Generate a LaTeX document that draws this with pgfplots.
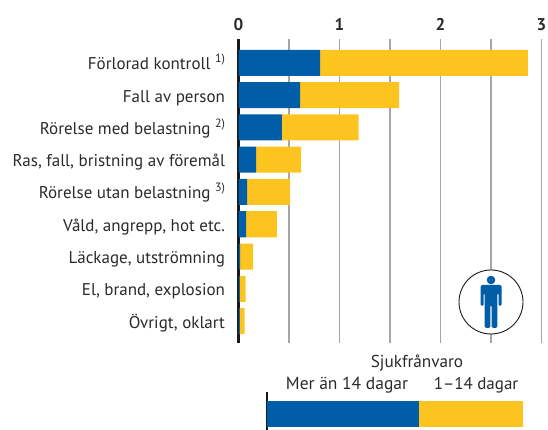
\documentclass[border=0pt]{standalone}
\usepackage{pgfplots}
\pgfplotsset{compat=1.18}
\usepackage{fontspec}
\setmainfont{PT Sans}
\definecolor{afablue}{HTML}{005DA8}
\definecolor{afayellow}{HTML}{FDC41F}
\definecolor{txt}{HTML}{2B2A29}
\newcommand{\fnote}[1]{\raisebox{0.42em}{\fontsize{12}{12}\selectfont #1}}
\begin{document}
\begin{tikzpicture}[x=1pt,y=1pt]
\path[use as bounding box] (0,0) rectangle (548,430);
\begin{axis}[
  at={(238.5pt,87pt)},anchor=south west,
  scale only axis,width=303pt,height=304pt,
  xmin=0,xmax=3,ymin=-0.744,ymax=8.682,
  y dir=reverse,
  xbar stacked,bar width=26pt,
  xtick={0,1,2,3},minor xtick={0.5,1.5,2.5},
  xticklabel pos=top,
  ytick={0,...,8},
  yticklabels={{Förlorad kontroll \fnote{1)}},Fall av person,{Rörelse med belastning \fnote{2)}},{Ras, fall, bristning av föremål},{Rörelse utan belastning \fnote{3)}},{Våld, angrepp, hot etc.},{Läckage, utströmning},{El, brand, explosion},{Övrigt, oklart}},
  xmajorgrids,xminorgrids,
  grid style={draw=black!35,line width=1.1pt},
  minor grid style={draw=black!35,line width=1.1pt},
  major tick length=0pt,minor tick length=0pt,
  axis line style={draw=none},
  tick label style={text=txt,font=\fontsize{17}{18}\selectfont},
  xticklabel style={font=\fontsize{17}{18}\selectfont\bfseries,yshift=5pt},
  yticklabel style={xshift=-10pt,text height=14pt,text depth=0pt},
  /pgf/number format/assume math mode=true,
  clip=false,
]
\addplot[fill=afablue,draw=none] coordinates {(0.807,0) (0.61,1) (0.43,2) (0.175,3) (0.085,4) (0.075,5) (0.015,6) (0.01,7) (0.01,8)};
\addplot[fill=afayellow,draw=none] coordinates {(2.059,0) (0.98,1) (0.76,2) (0.445,3) (0.425,4) (0.305,5) (0.13,6) (0.06,7) (0.05,8)};
\draw[black!90,line width=2.4pt] (axis cs:0,-0.744) -- (axis cs:0,8.682);
\end{axis}
% legend bar, drawn on its own axis in data units
\begin{axis}[
  at={(267pt,3pt)},anchor=south west,
  scale only axis,width=256pt,height=26pt,
  xmin=0,xmax=1,ymin=0,ymax=1,
  xbar stacked,bar width=26pt,
  axis line style={draw=none},ticks=none,clip=false,
]
\addplot[fill=afablue,draw=none] coordinates {(0.594,0.5)};
\addplot[fill=afayellow,draw=none] coordinates {(0.406,0.5)};
\draw[black!90,line width=2pt] (axis cs:0,-0.12) -- (axis cs:0,1.35);
\end{axis}
\node[text=txt,font=\fontsize{17.2}{18}\selectfont] at (417,67) {Sjukfrånvaro};
\node[text=txt,font=\fontsize{17.5}{18}\selectfont] at (347,45) {Mer än 14 dagar};
\node[text=txt,font=\fontsize{17}{18}\selectfont] at (476,45) {1–14 dagar};
% person icon
\draw[fill=white,draw=black!90,line width=0.9pt] (491,128) circle (32);
\begin{scope}[shift={(491,128)}]
\fill[afablue] (0,22) circle (4.3);
\fill[afablue,rounded corners=1.5pt] (-10.5,17) -- (10.5,17) -- (10.5,-4) -- (7.5,-4) -- (7.5,9) -- (6.3,9) -- (6.3,-26) -- (0.6,-26) -- (0.6,-3) -- (-0.6,-3) -- (-0.6,-26) -- (-6.3,-26) -- (-6.3,9) -- (-7.5,9) -- (-7.5,-4) -- (-10.5,-4) -- cycle;
\end{scope}
\end{tikzpicture}
\end{document}
